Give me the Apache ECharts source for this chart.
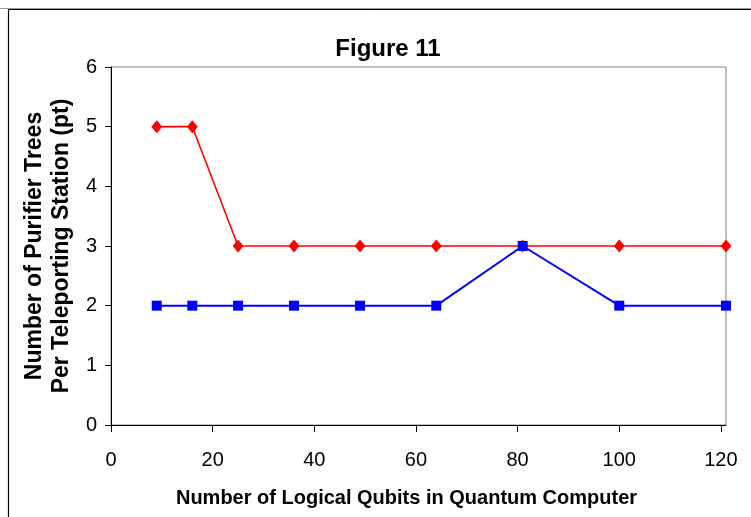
<!DOCTYPE html>
<html>
<head>
<meta charset="utf-8">
<script src="https://cdn.jsdelivr.net/npm/echarts@6/dist/echarts.min.js"></script>
<style>html,body{margin:0;padding:0;background:#fff;}#c{width:751px;height:517px;}</style>
</head>
<body>
<div id="c"></div>
<script>
var titleText = 'Figure 11';
var xName = 'Number of Logical Qubits in Quantum Computer';
var yName = 'Number of Purifier Trees\nPer Teleporting Station (pt)';
var qubits = [9, 16, 25, 36, 49, 64, 81, 100, 121];
var redSeries = [5, 5, 3, 3, 3, 3, 3, 3, 3];
var blueSeries = [2, 2, 2, 2, 2, 2, 3, 2, 2];
var xTicks = [0, 20, 40, 60, 80, 100, 120];
var yTicks = [0, 1, 2, 3, 4, 5, 6];

function pairs(xs, ys) { return xs.map(function (x, i) { return [x, ys[i]]; }); }

var chart = echarts.init(document.getElementById('c'));
var font = 'Liberation Sans, Arial, sans-serif';
chart.setOption({
  animation: false,
  backgroundColor: '#fff',
  title: {
    text: titleText, left: 383, top: 32, textAlign: 'center',
    textStyle: { fontFamily: font, fontWeight: 'bold', fontSize: 24, color: '#000' }
  },
  graphic: [
    { type: 'line', shape: { x1: 0, y1: 8.5, x2: 751, y2: 8.5 }, style: { stroke: '#999', lineWidth: 1 }, silent: true },
    { type: 'rect', shape: { x: 8.5, y: 9.5, width: 800, height: 600 }, style: { fill: 'none', stroke: '#000', lineWidth: 1.2 }, silent: true }
  ],
  grid: { left: 111, top: 67, right: 25, bottom: 92, show: true, borderColor: '#808080', borderWidth: 1 },
  xAxis: {
    type: 'value', min: 0, max: 121,
    name: xName, nameLocation: 'middle', nameGap: 63,
    nameTextStyle: { fontFamily: font, fontWeight: 'bold', fontSize: 20, color: '#000', padding: [0, 24, 0, 0] },
    axisLine: { show: true, lineStyle: { color: '#000', width: 1 } },
    axisTick: { show: true, length: 7, customValues: xTicks, lineStyle: { color: '#000' } },
    axisLabel: { customValues: xTicks, margin: 25, fontFamily: font, fontSize: 20, color: '#000' },
    splitLine: { show: false }
  },
  yAxis: {
    type: 'value', min: 0, max: 6, interval: 1,
    name: yName, nameLocation: 'middle', nameGap: 32,
    nameTextStyle: { fontFamily: font, fontWeight: 'bold', fontSize: 23, color: '#000', lineHeight: 27 },
    axisLine: { show: true, lineStyle: { color: '#000', width: 1 } },
    axisTick: { show: true, length: 6, lineStyle: { color: '#000' } },
    axisLabel: { margin: 14, fontFamily: font, fontSize: 20, color: '#000' },
    splitLine: { show: false }
  },
  series: [
    {
      type: 'line', data: pairs(qubits, redSeries),
      symbol: 'diamond', symbolSize: [11, 13],
      lineStyle: { color: '#ff0000', width: 1.6 },
      itemStyle: { color: '#ff0000' }
    },
    {
      type: 'line', data: pairs(qubits, blueSeries),
      symbol: 'rect', symbolSize: 10,
      lineStyle: { color: '#0000ff', width: 2 },
      itemStyle: { color: '#0000ff' }
    }
  ]
});
</script>
</body>
</html>
